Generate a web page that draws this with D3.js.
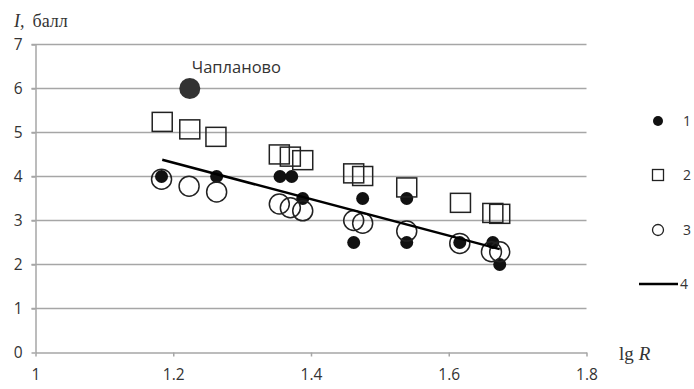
<!DOCTYPE html>
<html>
<head>
<meta charset="utf-8">
<script src="https://cdn.jsdelivr.net/npm/d3@7"></script>
<style>
  body { margin: 0; background: #fff; }
  svg text { font-family: "Open Sans", "Noto Sans", sans-serif; fill: #333; }
</style>
</head>
<body>
<script>
// series 1 - filled circles (observed)
const lg1 = [1.183, 1.263, 1.355, 1.372, 1.388, 1.475, 1.462, 1.539, 1.539, 1.616, 1.664, 1.674];
const i1  = [4, 4, 4, 4, 3.5, 3.5, 2.5, 3.5, 2.5, 2.5, 2.5, 2];
// series 2 - open squares
const lg2 = [1.184, 1.224, 1.262, 1.354, 1.370, 1.388, 1.462, 1.475, 1.539, 1.617, 1.664, 1.674];
const i2  = [5.23, 5.06, 4.89, 4.49, 4.44, 4.36, 4.06, 4.0, 3.74, 3.39, 3.16, 3.14];
// series 3 - open circles
const lg3 = [1.183, 1.223, 1.263, 1.354, 1.370, 1.388, 1.462, 1.475, 1.539, 1.616, 1.662, 1.674];
const i3  = [3.94, 3.78, 3.65, 3.375, 3.29, 3.22, 3.0, 2.94, 2.76, 2.48, 2.29, 2.29];
// outlier
const outlierName = "Чапланово";
const outlier = [1.224, 6];
// series 4 - regression line endpoints
const trendLg = [1.184, 1.674];
const trendI  = [4.38, 2.35];

const xTicks = [1, 1.2, 1.4, 1.6, 1.8];
const yTicks = [0, 1, 2, 3, 4, 5, 6, 7];
const legendLabels = ["1", "2", "3", "4"];

const width = 694, height = 389;
const margin = {top: 44.5, right: 107.5, bottom: 36.5, left: 35.5};

const svg = d3.select("body").append("svg")
  .attr("width", width).attr("height", height);

const x = d3.scaleLinear().domain([1, 1.8]).range([margin.left, width - margin.right]);
const y = d3.scaleLinear().domain([0, 7]).range([height - margin.bottom, margin.top]);

// gridlines
svg.append("g")
  .selectAll("line")
  .data(yTicks.filter(d => d > 0))
  .join("line")
  .attr("x1", x(1) - 4).attr("x2", x(1.8))
  .attr("y1", d => y(d)).attr("y2", d => y(d))
  .attr("stroke", "#a6a6a6").attr("stroke-width", 1.5);

// x axis
const xAxis = d3.axisBottom(x).tickValues(xTicks).tickFormat(d3.format("")).tickSize(4).tickSizeOuter(0);
const gx = svg.append("g")
  .attr("transform", `translate(0,${y(0)})`)
  .call(xAxis);
gx.select(".domain").attr("stroke", "#a6a6a6").attr("stroke-width", 1.5);
gx.selectAll(".tick line").attr("stroke", "#a6a6a6").attr("stroke-width", 1.5);
gx.selectAll(".tick text").attr("y", 16).attr("font-size", 15.5).attr("fill", "#333");

// y axis
const yAxis = d3.axisLeft(y).tickValues(yTicks).tickFormat(d3.format("d")).tickSize(4).tickSizeOuter(0);
const gy = svg.append("g")
  .attr("transform", `translate(${x(1)},0)`)
  .call(yAxis);
gy.select(".domain").attr("stroke", "#a6a6a6").attr("stroke-width", 1.5);
gy.selectAll(".tick line").attr("stroke", "#a6a6a6").attr("stroke-width", 1.5);
gy.selectAll(".tick text").attr("x", -13).attr("font-size", 15.5).attr("fill", "#333");

// axis titles
const yt = svg.append("text").attr("x", 14).attr("y", 27)
  .style("font-family", "'Liberation Serif', 'DejaVu Serif', serif").attr("font-size", 18).attr("fill", "#222");
yt.append("tspan").attr("font-style", "italic").text("I,");
yt.append("tspan").attr("dx", 8).text("балл");

const xt = svg.append("text").attr("x", 619).attr("y", 360)
  .style("font-family", "'Liberation Serif', 'DejaVu Serif', serif").attr("font-size", 19).attr("fill", "#222");
xt.append("tspan").text("lg");
xt.append("tspan").attr("dx", 5).attr("font-style", "italic").text("R");

// series 1
svg.append("g")
  .selectAll("circle")
  .data(d3.zip(lg1, i1))
  .join("circle")
  .attr("cx", d => x(d[0])).attr("cy", d => y(d[1]))
  .attr("r", 6.5).attr("fill", "#111");

// series 2
const sq = 20;
svg.append("g")
  .selectAll("rect")
  .data(d3.zip(lg2, i2))
  .join("rect")
  .attr("x", d => x(d[0]) - sq / 2).attr("y", d => y(d[1]) - sq / 2)
  .attr("width", sq).attr("height", sq - 1)
  .attr("fill", "none").attr("stroke", "#222").attr("stroke-width", 1.5);

// series 3
svg.append("g")
  .selectAll("circle")
  .data(d3.zip(lg3, i3))
  .join("circle")
  .attr("cx", d => x(d[0])).attr("cy", d => y(d[1]))
  .attr("r", 10).attr("fill", "none").attr("stroke", "#222").attr("stroke-width", 1.5);

// regression line
svg.append("path")
  .datum(d3.zip(trendLg, trendI))
  .attr("d", d3.line().x(d => x(d[0])).y(d => y(d[1])))
  .attr("stroke", "#000").attr("stroke-width", 2.5).attr("fill", "none");

// outlier
svg.append("circle")
  .attr("cx", x(outlier[0])).attr("cy", y(outlier[1]))
  .attr("r", 10.5).attr("fill", "#333");
svg.append("text")
  .attr("x", x(outlier[0]) + 2).attr("y", y(outlier[1]) - 16)
  .attr("font-size", 16.5).attr("fill", "#222")
  .text(outlierName);

// legend
const legY = [121, 175, 230, 284];
const lg = svg.append("g");
legendLabels.forEach((t, k) => {
  const ly = legY[k];
  if (k === 0) lg.append("circle").attr("cx", 658).attr("cy", ly).attr("r", 5).attr("fill", "#111");
  if (k === 1) lg.append("rect").attr("x", 652.5).attr("y", ly - 5.5).attr("width", 11).attr("height", 11)
    .attr("fill", "none").attr("stroke", "#222").attr("stroke-width", 1.3);
  if (k === 2) lg.append("circle").attr("cx", 658).attr("cy", ly).attr("r", 5.5)
    .attr("fill", "none").attr("stroke", "#222").attr("stroke-width", 1.3);
  if (k === 3) lg.append("line").attr("x1", 639).attr("x2", 678).attr("y1", ly).attr("y2", ly)
    .attr("stroke", "#000").attr("stroke-width", 2.5);
  lg.append("text").attr("x", k === 3 ? 680 : 683).attr("y", ly).attr("dy", "0.35em")
    .attr("font-size", 14).attr("fill", "#333").text(t);
});
</script>
</body>
</html>
